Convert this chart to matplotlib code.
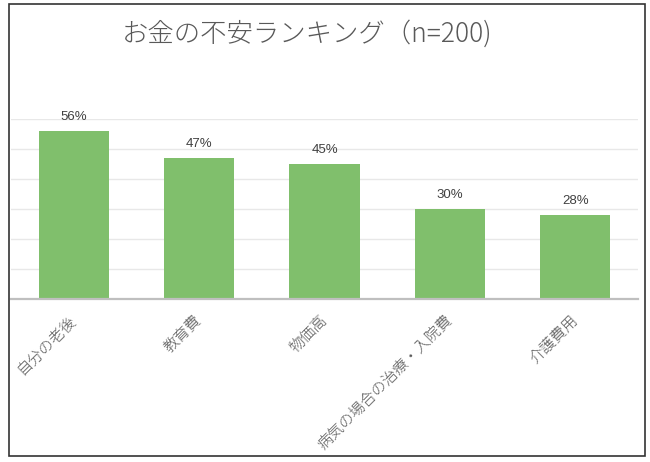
import matplotlib
matplotlib.use("Agg")
import matplotlib.pyplot as plt
from matplotlib.ticker import MultipleLocator
from matplotlib.patches import Rectangle

plt.rcParams['font.family'] = ['Noto Sans CJK JP', 'DejaVu Sans']

title = "お金の不安ランキング（n=200)"
categories = ["自分の老後", "教育費", "物価高", "病気の場合の治療・入院費", "介護費用"]
values = [0.56, 0.47, 0.45, 0.30, 0.28]
labels = ["56%", "47%", "45%", "30%", "28%"]

fig = plt.figure(figsize=(6.5, 4.62), dpi=100)
fig.patch.set_facecolor('white')
fig.add_artist(Rectangle((9/650, 1-456/462), 636/650, 452/462, transform=fig.transFigure,
                         fill=False, edgecolor='#333333', linewidth=1.2))

ax = fig.add_axes([11/650, 1-299/462, 627/650, 180/462])
x = list(range(len(categories)))
ax.bar(x, values, width=0.56, color='#80bf6c', zorder=3)
ax.set_xlim(-0.5, len(categories) - 0.5)
ax.set_ylim(0, 0.6)
ax.yaxis.set_major_locator(MultipleLocator(0.1))
ax.grid(axis='y', color='#e8e8e8', linewidth=1, zorder=0)
ax.set_yticklabels([])
ax.tick_params(axis='y', length=0)
ax.tick_params(axis='x', length=0)
for s in ['top', 'right', 'left']:
    ax.spines[s].set_visible(False)
ax.spines['bottom'].set_color('#bfbfbf')
ax.spines['bottom'].set_linewidth(1.6)
ax.spines['bottom'].set_zorder(4)

ax.set_xticks(x)
ax.set_xticklabels([])
for xi, cat in zip(x, categories):
    ax.text(xi - 0.037, -0.078, cat, transform=ax.get_xaxis_transform(),
            rotation=45, ha='right', va='top', rotation_mode='anchor',
            fontsize=11, color='#595959', fontweight='light')

for xi, v, lab in zip(x, values, labels):
    ax.annotate(lab, (xi, v), xytext=(0, 6), textcoords='offset points',
                ha='center', va='bottom', fontsize=9.5, color='#404040',
                family=['Liberation Sans', 'DejaVu Sans'], annotation_clip=False)

fig.text(307/650, 1-34/462, title, ha='center', va='center', fontsize=19,
         color='#595959', fontweight='light')

fig.savefig('out.png', dpi=100, facecolor='white')
